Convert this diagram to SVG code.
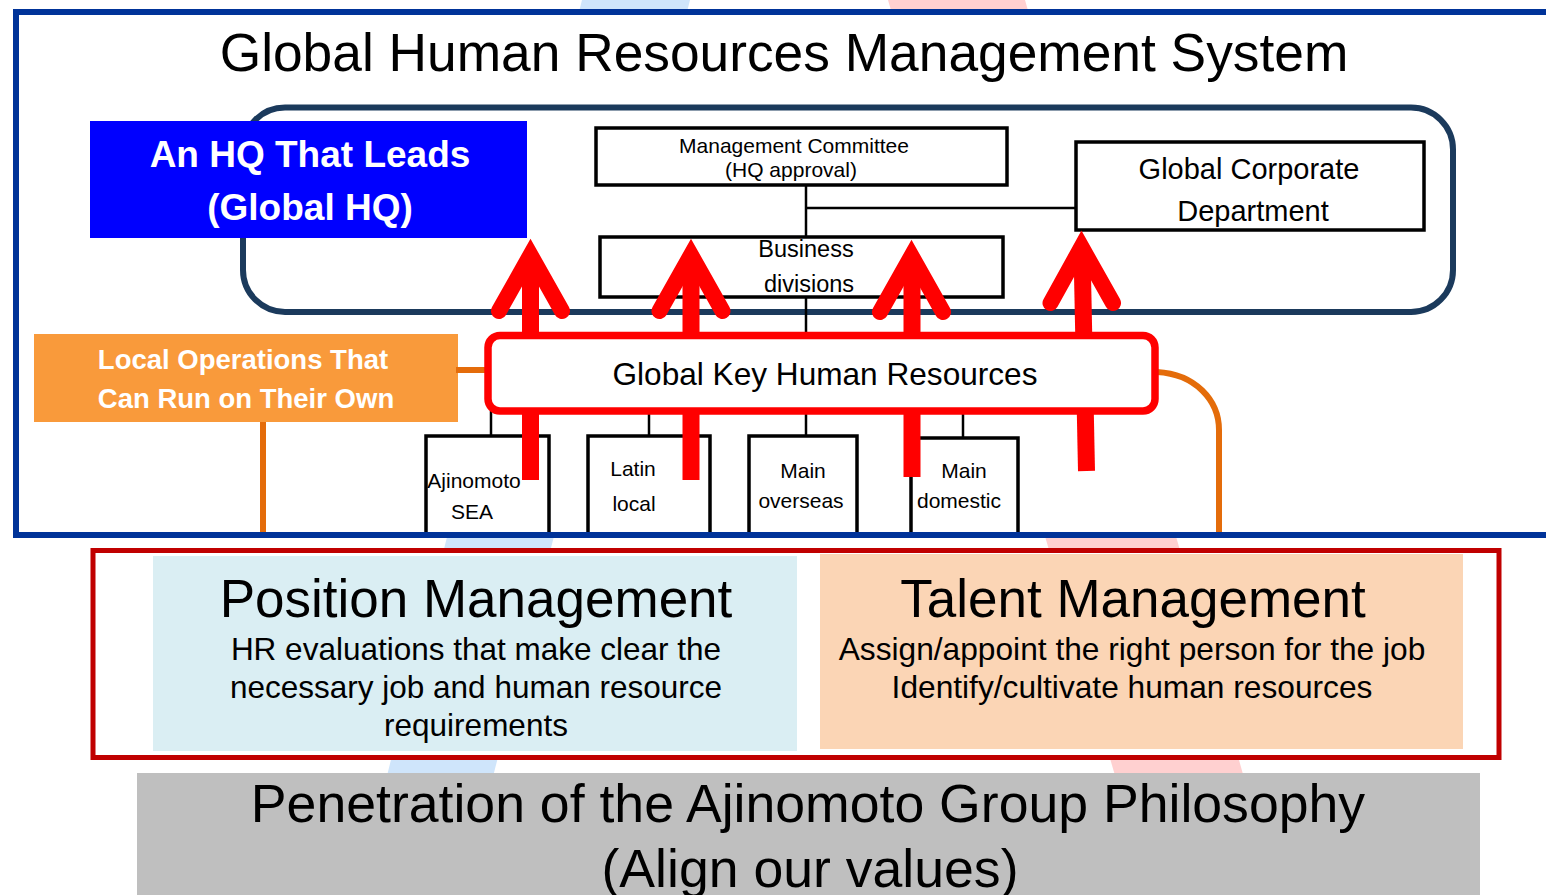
<svg xmlns="http://www.w3.org/2000/svg" width="1546" height="895" viewBox="0 0 1546 895">
  <defs>
    <style>
      .t { font-family: "Liberation Sans", Arial, sans-serif; fill: #000; text-anchor: middle; }
      .tb { font-family: "Liberation Sans", Arial, sans-serif; fill: #fff; font-weight: bold; text-anchor: middle; }
      .box { fill: #fff; stroke: #000; stroke-width: 3.5; }
      .link { stroke: #000; stroke-width: 2.5; fill: none; }
      .orange { stroke: #e46c0a; stroke-width: 6; fill: none; }
      .shaft { stroke: #ff0000; stroke-width: 17; fill: none; stroke-linecap: butt; }
      .head { stroke: #ff0000; stroke-width: 16; fill: none; stroke-linecap: round; stroke-linejoin: miter; stroke-miterlimit: 6; }
      .sub { stroke: #000; stroke-width: 3.5; fill: #fff; }
    </style>
  </defs>

  <rect width="1546" height="895" fill="#fff"/>

  <!-- faint crossing bands behind the layout -->
  <g id="backdrop">
    <polygon points="582,0 690,0 463,895 357,895" fill="#cfe5fb"/>
    <polygon points="888,0 1025,0 1277,895 1150,895" fill="#ffd0d0"/>
  </g>

  <!-- upper frame -->
  <g id="system-frame">
    <rect x="16" y="12" width="1560" height="523" fill="#fff"/>
    <text class="t" x="784" y="71" font-size="53.3">Global Human Resources Management System</text>
  </g>

  <!-- HQ enclosure -->
  <g id="hq-enclosure">
    <rect x="243" y="107.5" width="1210" height="204.5" rx="42" ry="42" fill="none" stroke="#1b3a5c" stroke-width="6"/>
  </g>

  <g id="hq-label">
    <rect x="90" y="121" width="437" height="117" fill="#0000ff"/>
    <text class="tb" x="310" y="167" font-size="37">An HQ That Leads</text>
    <text class="tb" x="310" y="220" font-size="37">(Global HQ)</text>
  </g>

  <g id="local-label">
    <rect x="34" y="334" width="424" height="88" fill="#f99a3b"/>
    <text class="tb" x="243" y="369" font-size="27.5">Local Operations That</text>
    <text class="tb" x="246" y="408" font-size="27.5">Can Run on Their Own</text>
  </g>

  <!-- connectors -->
  <g id="connectors">
    <line class="link" x1="806" y1="185" x2="806" y2="237"/>
    <line class="link" x1="806" y1="208" x2="1076" y2="208"/>
    <line class="link" x1="806" y1="297" x2="806" y2="335"/>
    <line class="link" x1="491" y1="411" x2="491" y2="436"/>
    <line class="link" x1="649" y1="411" x2="649" y2="436"/>
    <line class="link" x1="806" y1="411" x2="806" y2="436"/>
    <line class="link" x1="963" y1="411" x2="963" y2="438"/>
    <line class="orange" x1="456" y1="370" x2="486" y2="370"/>
    <line class="orange" x1="263" y1="422" x2="263" y2="533"/>
    <path class="orange" d="M1157 372 C1195 374 1219 400 1219 430 L1219 533"/>
  </g>

  <g id="management-committee">
    <rect class="box" x="596" y="128" width="411" height="57"/>
    <text class="t" x="794" y="153" font-size="21">Management Committee</text>
    <text class="t" x="791" y="177" font-size="21">(HQ approval)</text>
  </g>

  <g id="business-divisions">
    <rect class="box" x="600" y="237" width="403" height="60"/>
    <text class="t" x="806" y="257" font-size="23.5">Business</text>
    <text class="t" x="809" y="292" font-size="23.5">divisions</text>
  </g>

  <g id="global-corporate-department">
    <rect class="box" x="1076" y="142" width="348" height="88"/>
    <text class="t" x="1249" y="179" font-size="29">Global Corporate</text>
    <text class="t" x="1253" y="221" font-size="29">Department</text>
  </g>

  <!-- local units, cut off by the frame edge -->
  <g id="unit-ajinomoto-sea">
    <path class="sub" d="M426 536 V436 H549 V536"/>
    <text class="t" x="474" y="488" font-size="21">Ajinomoto</text>
    <text class="t" x="472" y="519" font-size="21">SEA</text>
  </g>
  <g id="unit-latin-local">
    <path class="sub" d="M588 536 V436 H710 V536"/>
    <text class="t" x="633" y="476" font-size="21">Latin</text>
    <text class="t" x="634" y="511" font-size="21">local</text>
  </g>
  <g id="unit-main-overseas">
    <path class="sub" d="M749 536 V436 H857 V536"/>
    <text class="t" x="803" y="478" font-size="21">Main</text>
    <text class="t" x="801" y="508" font-size="21">overseas</text>
  </g>
  <g id="unit-main-domestic">
    <path class="sub" d="M911 536 V438 H1018 V536"/>
    <text class="t" x="964" y="478" font-size="21">Main</text>
    <text class="t" x="959" y="508" font-size="21">domestic</text>
  </g>

  <!-- upward arrows -->
  <g id="arrows">
    <line class="shaft" x1="530.5" y1="258" x2="530.5" y2="480"/>
    <polyline class="head" points="499,311 530.5,255 562,311"/>
    <line class="shaft" x1="691" y1="258" x2="691" y2="480"/>
    <polyline class="head" points="659.5,311 691,255 722.5,311"/>
    <line class="shaft" x1="912" y1="258" x2="912" y2="477"/>
    <polyline class="head" points="880,312 911.5,256 943,312"/>
    <line class="shaft" x1="1082" y1="250" x2="1086.5" y2="471"/>
    <polyline class="head" points="1050.5,303 1081.5,247 1113,303"/>
  </g>

  <g id="global-key-hr">
    <rect x="488" y="335.5" width="667" height="75.5" rx="12" ry="12" fill="#fff" stroke="#ff0000" stroke-width="7.5"/>
    <text class="t" x="825" y="385" font-size="31.6">Global Key Human Resources</text>
  </g>

  <g id="system-frame-border">
    <rect x="16" y="12" width="1560" height="523" fill="none" stroke="#003399" stroke-width="6"/>
  </g>

  <!-- lower section -->
  <g id="management-pillars">
    <rect x="93" y="550.5" width="1406" height="207" fill="#fff" stroke="#c00000" stroke-width="5"/>
  </g>

  <g id="position-management">
    <rect x="153" y="556" width="644" height="195" fill="#daeef3"/>
    <text class="t" x="476" y="617" font-size="53">Position Management</text>
    <text class="t" x="476" y="660" font-size="31.5">HR evaluations that make clear the</text>
    <text class="t" x="476" y="698" font-size="31.5">necessary job and human resource</text>
    <text class="t" x="476" y="736" font-size="31.5">requirements</text>
  </g>

  <g id="talent-management">
    <rect x="820" y="554" width="643" height="195" fill="#fbd5b5"/>
    <text class="t" x="1133" y="617" font-size="53">Talent Management</text>
    <text class="t" x="1132" y="660" font-size="31.7">Assign/appoint the right person for the job</text>
    <text class="t" x="1132" y="698" font-size="31.7">Identify/cultivate human resources</text>
  </g>

  <g id="philosophy">
    <rect x="137" y="773" width="1343" height="122" fill="#bfbfbf"/>
    <text class="t" x="808" y="822" font-size="53.6">Penetration of the Ajinomoto Group Philosophy</text>
    <text class="t" x="810" y="887" font-size="53.6">(Align our values)</text>
  </g>
</svg>
